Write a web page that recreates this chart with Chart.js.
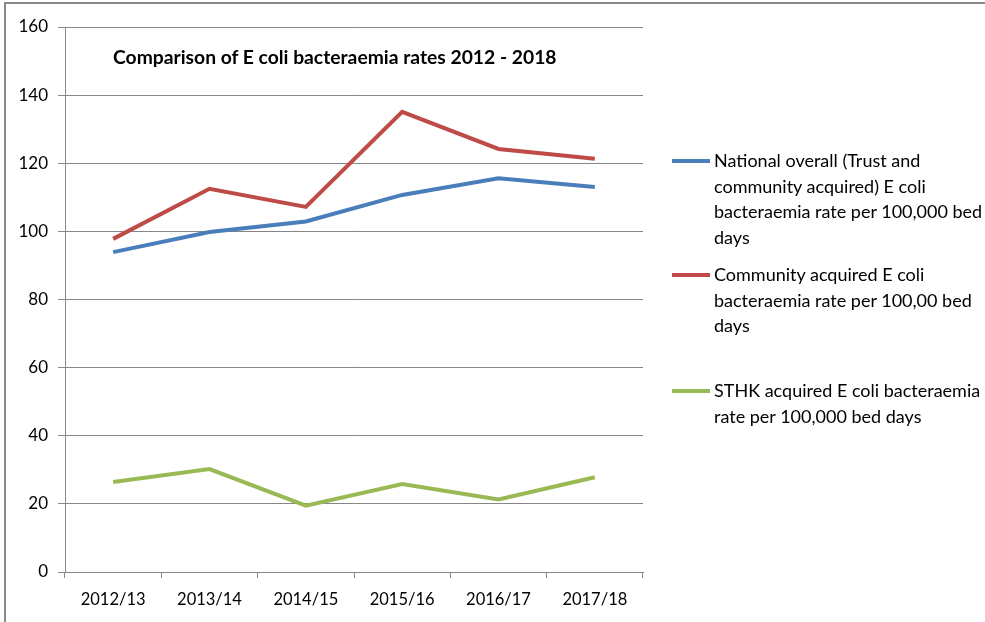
<!DOCTYPE html>
<html>
<head>
<meta charset="utf-8">
<script src="https://cdn.jsdelivr.net/npm/chart.js@4"></script>
<style>
  html, body { margin: 0; padding: 0; background: #fff; }
  #wrap { position: relative; width: 985px; height: 622px; overflow: hidden; background: #fff; }
  #frame { position: absolute; left: 4px; top: 2px; width: 1000px; height: 700px;
           border-top: 2px solid #8a8a8a; border-left: 2px solid #8a8a8a; pointer-events: none; }
  #c { position: absolute; left: 0; top: 0; }
  #title { position: absolute; left: 113px; top: 45px; font-family: Lato, sans-serif; font-weight: bold;
           font-size: 19.3px; color: #000; white-space: nowrap; }
  .lg { position: absolute; left: 672px; font-family: Lato, sans-serif; font-size: 18px; line-height: 25.6px;
        color: #000; }
  .lg .sw { position: absolute; left: 0; top: 11px; width: 38px; height: 4px; }
  .lg .tx { position: absolute; left: 42px; top: 0; width: 272px; }
</style>
</head>
<body>
<div id="wrap">
  <canvas id="c" width="985" height="622"></canvas>
  <div id="title"></div>
  <div id="legend"></div>
  <div id="frame"></div>
</div>
<script>
const titleText = "Comparison of E coli bacteraemia rates 2012 - 2018";
const categories = ["2012/13", "2013/14", "2014/15", "2015/16", "2016/17", "2017/18"];
const seriesNames = [
  "National overall (Trust and community acquired) E coli bacteraemia rate per 100,000 bed days",
  "Community acquired E coli bacteraemia rate per 100,00 bed days",
  "STHK acquired E coli bacteraemia rate per 100,000 bed days"
];
const nationalOverall = [93.9, 99.8, 102.9, 110.7, 115.6, 113.0];
const communityAcquired = [97.8, 112.5, 107.2, 135.1, 124.2, 121.3];
const sthkAcquired = [26.4, 30.2, 19.5, 25.8, 21.3, 27.8];
const yTicks = [0, 20, 40, 60, 80, 100, 120, 140, 160];

const colors = ["#4A7EBB", "#BE4B48", "#98B954"];
const FONT = "Lato, sans-serif";
const gridCol = "#868686";

document.getElementById("title").textContent = titleText;

const chart = new Chart(document.getElementById("c"), {
  type: "line",
  data: {
    labels: categories,
    datasets: [nationalOverall, communityAcquired, sthkAcquired].map((d, i) => ({
      label: seriesNames[i],
      data: d,
      borderColor: colors[i],
      backgroundColor: colors[i],
      borderWidth: 4,
      pointRadius: 0,
      tension: 0,
      fill: false
    }))
  },
  options: {
    responsive: false,
    animation: false,
    layout: { padding: { left: 5, top: 27, right: 342, bottom: 0 } },
    plugins: { legend: { display: false }, title: { display: false }, tooltip: { enabled: false } },
    scales: {
      x: {
        offset: true,
        grid: { display: true, drawOnChartArea: false, drawTicks: true, tickLength: 6, offset: true,
                color: gridCol, lineWidth: 1 },
        border: { display: true, color: gridCol, width: 1 },
        ticks: { color: "#000", font: { family: FONT, size: 16.5 }, padding: 12, maxRotation: 0, autoSkip: false },
        afterFit: (s) => { s.height = 50; }
      },
      y: {
        min: 0, max: 160,
        afterBuildTicks: (s) => { s.ticks = yTicks.map(v => ({ value: v })); },
        grid: { color: gridCol, lineWidth: 1, drawTicks: true, tickLength: 7, tickColor: gridCol },
        border: { display: true, color: gridCol, width: 1 },
        ticks: { color: "#000", font: { family: FONT, size: 17 }, padding: 10 },
        afterFit: (s) => { s.width = 60; }
      }
    }
  }
});

// HTML legend built from the chart's datasets
const legendTops = [148, 262, 378];
const lg = document.getElementById("legend");
chart.data.datasets.forEach((ds, i) => {
  const item = document.createElement("div");
  item.className = "lg";
  item.style.top = legendTops[i] + "px";
  const sw = document.createElement("div");
  sw.className = "sw";
  sw.style.background = ds.borderColor;
  const tx = document.createElement("div");
  tx.className = "tx";
  tx.textContent = ds.label;
  item.appendChild(sw);
  item.appendChild(tx);
  lg.appendChild(item);
});
</script>
</body>
</html>
